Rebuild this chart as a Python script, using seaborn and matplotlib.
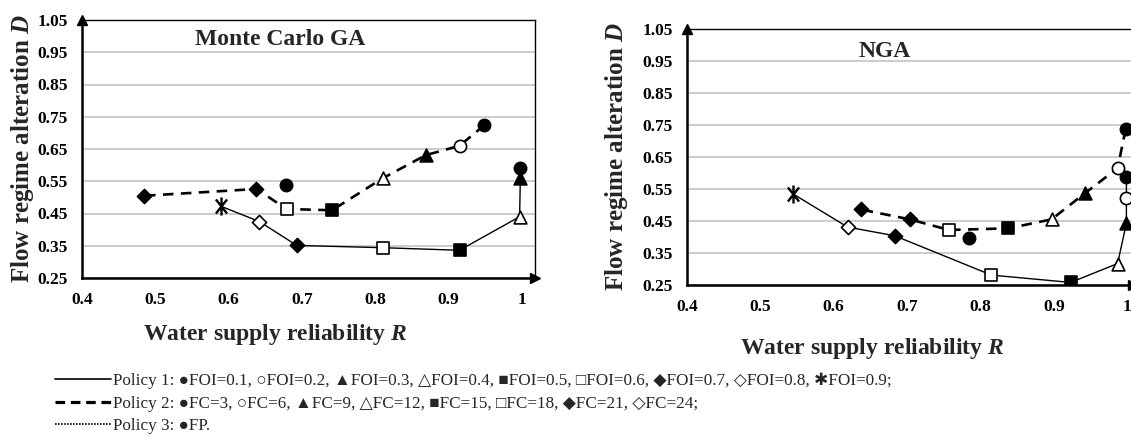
import numpy as np
import matplotlib
matplotlib.use("Agg")
import matplotlib.pyplot as plt
import seaborn as sns
from matplotlib.lines import Line2D
from matplotlib.path import Path

# ---------------- data ----------------
# Monte Carlo GA
mc_p1_R = [0.590, 0.642, 0.693, 0.810, 0.915, 0.997, 0.998, 0.998]
mc_p1_D = [0.472, 0.425, 0.351, 0.344, 0.336, 0.440, 0.560, 0.590]
mc_p1_kind = ["star", "od", "fd", "os", "fs", "ot", "ft", "fc"]

mc_p2_R = [0.949, 0.915, 0.869, 0.810, 0.741, 0.679, 0.638, 0.485]
mc_p2_D = [0.724, 0.660, 0.631, 0.559, 0.460, 0.464, 0.526, 0.505]
mc_p2_kind = ["fc", "oc", "ft", "ot", "fs", "os", "fd", "fd"]

mc_p3_R = [0.678]
mc_p3_D = [0.538]

# NGA
nga_p1_R = [0.545, 0.619, 0.683, 0.815, 0.923, 0.987, 0.999, 0.999, 0.999]
nga_p1_D = [0.534, 0.431, 0.404, 0.281, 0.258, 0.317, 0.443, 0.523, 0.587]
nga_p1_kind = ["star", "od", "fd", "os", "fs", "ot", "ft", "oc", "fc"]

nga_p2_R = [0.998, 0.987, 0.942, 0.897, 0.838, 0.757, 0.704, 0.637]
nga_p2_D = [0.737, 0.615, 0.536, 0.455, 0.427, 0.422, 0.455, 0.486]
nga_p2_kind = ["fc", "oc", "ft", "ot", "fs", "os", "fd", "fd"]

nga_p3_R = [0.785]
nga_p3_D = [0.396]

panel_titles = ["Monte Carlo GA", "NGA"]
x_ticks = [0.4, 0.5, 0.6, 0.7, 0.8, 0.9, 1.0]
x_tick_labels = ["0.4", "0.5", "0.6", "0.7", "0.8", "0.9", "1"]
y_ticks = [0.25, 0.35, 0.45, 0.55, 0.65, 0.75, 0.85, 0.95, 1.05]
y_tick_labels = ["0.25", "0.35", "0.45", "0.55", "0.65", "0.75", "0.85", "0.95", "1.05"]
x_label = "Water supply reliability $R$"
y_label = "Flow regime alteration $D$"
legend_labels = [
    "Policy 1: \u25cfFOI=0.1, \u25cbFOI=0.2, \u25b2FOI=0.3, \u25b3FOI=0.4, \u25a0FOI=0.5, "
    "\u25a1FOI=0.6, \u25c6FOI=0.7, \u25c7FOI=0.8, \u2731FOI=0.9;",
    "Policy 2: \u25cfFC=3, \u25cbFC=6, \u25b2FC=9, \u25b3FC=12, \u25a0FC=15, \u25a1FC=18, "
    "\u25c6FC=21, \u25c7FC=24;",
    "Policy 3: \u25cfFP.",
]

# ---------------- style ----------------
sns.set_style("white")
plt.rcParams["font.family"] = ["Liberation Serif", "DejaVu Sans"]
plt.rcParams["mathtext.fontset"] = "custom"
plt.rcParams["mathtext.it"] = "Liberation Serif:italic:bold"
plt.rcParams["mathtext.rm"] = "Liberation Serif:bold"
plt.rcParams["mathtext.bf"] = "Liberation Serif:bold"

KIND = {
    "fc": ("o", "black", 8.8),
    "oc": ("o", "white", 8.8),
    "ft": ("^", "black", 9.2),
    "ot": ("^", "white", 9.2),
    "fs": ("s", "black", 9.2),
    "os": ("s", "white", 9.2),
    "fd": ("D", "black", 7.2),
    "od": ("D", "white", 7.2),
}

# asterisk: vertical bar plus an X
_c, _s = 0.62, 0.78
STAR = Path([(0, -1), (0, 1), (-_c, -_s), (_c, _s), (-_c, _s), (_c, -_s)],
            [Path.MOVETO, Path.LINETO, Path.MOVETO, Path.LINETO,
             Path.MOVETO, Path.LINETO])

W, H = 1131, 437
fig = plt.figure(figsize=(W / 100, H / 100), dpi=100)
ax1 = fig.add_axes([82 / W, 1 - 278 / H, 453 / W, 258 / H])
ax2 = fig.add_axes([687 / W, 1 - 285 / H, 446 / W, 256 / H])


def draw_markers(ax, R, D, kinds):
    R = np.asarray(R)
    D = np.asarray(D)
    kinds = np.asarray(kinds)
    for k in dict.fromkeys(kinds):
        sel = kinds == k
        if k == "star":
            sns.scatterplot(x=R[sel], y=D[sel], ax=ax, marker=STAR, s=13 ** 2,
                            color="black", edgecolor=None, linewidth=1.7,
                            zorder=5, legend=False)
        else:
            m, fc, sz = KIND[k]
            sns.scatterplot(x=R[sel], y=D[sel], ax=ax, marker=m, s=sz ** 2,
                            color=fc, edgecolor="black", linewidth=1.2,
                            zorder=5, legend=False)


def panel(ax, p1R, p1D, p1K, p2R, p2D, p2K, p3R, p3D, title, xmax, tx, ty,
          ylab_x, xlab_xy):
    sns.lineplot(x=p1R, y=p1D, ax=ax, sort=False, estimator=None,
                 color="black", linewidth=1.0, zorder=3)
    sns.lineplot(x=p2R, y=p2D, ax=ax, sort=False, estimator=None,
                 color="black", linewidth=1.9, linestyle=(0, (4, 2.8)), zorder=3)
    draw_markers(ax, p1R, p1D, p1K)
    draw_markers(ax, p2R, p2D, p2K)
    draw_markers(ax, p3R, p3D, ["fc"] * len(p3R))

    ax.set_xlim(0.4, xmax)
    ax.set_ylim(0.25, 1.05)
    ax.set_xticks(x_ticks)
    ax.set_xticklabels(x_tick_labels, fontsize=12.5, fontweight="bold")
    ax.set_yticks(y_ticks)
    ax.set_yticklabels(y_tick_labels, fontsize=12.5, fontweight="bold")
    ax.tick_params(axis="both", direction="in", length=5, width=1.4, pad=10,
                   colors="black")
    ax.tick_params(axis="y", length=0, pad=10)
    ax.yaxis.grid(True, color="#BFBFBF", linewidth=1.1)
    ax.xaxis.grid(False)
    ax.set_axisbelow(True)
    for s in ["left", "bottom"]:
        ax.spines[s].set_linewidth(1.8)
        ax.spines[s].set_color("black")
    for s in ["top", "right"]:
        ax.spines[s].set_linewidth(1.0)
        ax.spines[s].set_color("black")
    ax.plot([1], [0], marker=">", ms=7, color="black", transform=ax.transAxes,
            clip_on=False, zorder=6)
    ax.plot([0], [1], marker="^", ms=7, color="black", transform=ax.transAxes,
            clip_on=False, zorder=6)
    ax.text(tx, ty, title, ha="center", va="center", fontsize=17,
            fontweight="bold")
    ax.set_ylabel(y_label, fontsize=18, fontweight="bold")
    ax.set_xlabel(x_label, fontsize=17, fontweight="bold")
    ax.yaxis.set_label_coords(ylab_x, 0.5)
    ax.xaxis.set_label_coords(*xlab_xy)


panel(ax1, mc_p1_R, mc_p1_D, mc_p1_kind, mc_p2_R, mc_p2_D, mc_p2_kind,
      mc_p3_R, mc_p3_D, panel_titles[0], 1.018, 0.670, 0.988,
      -0.102, (0.426, -0.172))
panel(ax2, nga_p1_R, nga_p1_D, nga_p1_kind, nga_p2_R, nga_p2_D, nga_p2_kind,
      nga_p3_R, nga_p3_D, panel_titles[1], 1.008, 0.669, 0.98,
      -0.128, (0.414, -0.200))

handles = [
    Line2D([], [], color="black", linewidth=1.2),
    Line2D([], [], color="black", linewidth=2.3, linestyle=(0, (3, 1.8))),
    Line2D([], [], color="black", linewidth=1.2, linestyle=(0, (1, 0.8))),
]
fig.legend(handles=handles, labels=legend_labels, loc="upper left",
           bbox_to_anchor=(55 / W, 1 - 373 / H), frameon=False,
           handlelength=3.3, handletextpad=0.1, borderpad=0, borderaxespad=0,
           labelspacing=0.36,
           prop={"family": ["Liberation Serif", "DejaVu Sans"], "size": 12.3})

fig.savefig("out.png", dpi=100)
